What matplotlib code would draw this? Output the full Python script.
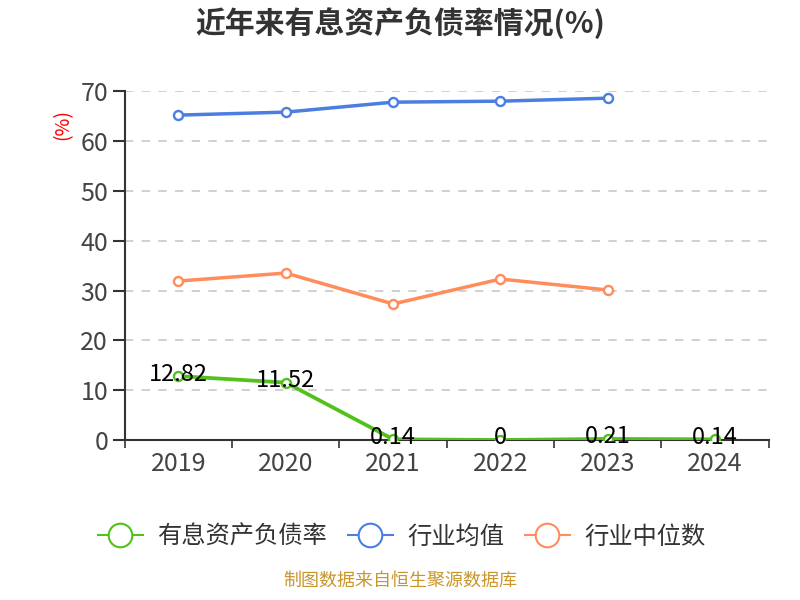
import matplotlib.pyplot as plt
from matplotlib.lines import Line2D

plt.rcParams['font.family'] = ['Noto Sans CJK SC', 'DejaVu Sans']

# Daten
years = ['2019', '2020', '2021', '2022', '2023', '2024']
debt_ratio = [12.82, 11.52, 0.14, 0, 0.21, 0.14]
debt_labels = ['12.82', '11.52', '0.14', '0', '0.21', '0.14']
industry_avg = [65.2, 65.8, 67.8, 68.0, 68.6]
industry_median = [31.9, 33.5, 27.3, 32.3, 30.1]

green = '#52c11c'
blue = '#4a7ee0'
orange = '#ff8c5a'

fig = plt.figure(figsize=(8, 6), dpi=100)
ax = fig.add_axes([0.156, 0.2667, 0.805, 0.5813])

x = list(range(len(years)))
mk = dict(marker='o', markersize=6.5, markerfacecolor='white', markeredgewidth=1.7)
ax.plot(x, debt_ratio, color=green, lw=2.7, markeredgecolor=green, zorder=4, **mk)
ax.plot(x[:len(industry_avg)], industry_avg, color=blue, lw=2.5, markeredgecolor=blue, zorder=3, **mk)
ax.plot(x[:len(industry_median)], industry_median, color=orange, lw=2.5, markeredgecolor=orange, zorder=3, **mk)

# Beschriftungen der Punkte
for xi, yi, lab in zip(x, debt_ratio, debt_labels):
    ax.text(xi, yi + 0.4, lab, ha='center', va='center', fontsize=17, color='black', zorder=5)

ax.set_xlim(-0.5, len(years) - 0.5)
ax.set_ylim(0, 70)
ax.set_yticks(range(0, 71, 10))
ax.set_xticks(x)
ax.set_xticklabels(years)
ax.set_xticks([i - 0.5 for i in range(len(years) + 1)], minor=True)
ax.tick_params(axis='x', which='major', length=0, pad=8, labelsize=18, labelcolor='#444444')
ax.tick_params(axis='x', which='minor', length=6, width=1.2, color='#333333')
ax.tick_params(axis='y', length=9, width=1.5, color='#333333', pad=3, labelsize=18, labelcolor='#444444')

for v in range(10, 71, 10):
    ax.axhline(v, color='#c8c8c8', lw=1.2, ls=(0, (5, 5)), zorder=1)

for s in ['top', 'right']:
    ax.spines[s].set_visible(False)
ax.spines['left'].set_color('#333333')
ax.spines['left'].set_linewidth(1.5)
ax.spines['bottom'].set_color('#333333')
ax.spines['bottom'].set_linewidth(1.5)

fig.text(0.078, 0.792, '(%)', color='red', fontsize=14, rotation=90, ha='center', va='center')
fig.text(0.5, 0.962, '近年来有息资产负债率情况(%)', fontsize=21.5, fontweight='bold',
         color='#333333', ha='center', va='center')

handles = [Line2D([], [], color=c, lw=1.5, marker='o', markersize=17,
                  markerfacecolor='white', markeredgewidth=1.5, markeredgecolor=c)
           for c in (green, blue, orange)]
fig.legend(handles, ['有息资产负债率', '行业均值', '行业中位数'], loc='center',
           bbox_to_anchor=(0.502, 0.105), ncol=3, frameon=False, fontsize=17.5,
           handlelength=1.85, columnspacing=0.85, handletextpad=0.6, labelcolor='#333333')

fig.text(0.5, 0.018, '制图数据来自恒生聚源数据库', color='#c8962b', fontsize=13, ha='center', va='bottom')

fig.savefig('out.png', dpi=100)
